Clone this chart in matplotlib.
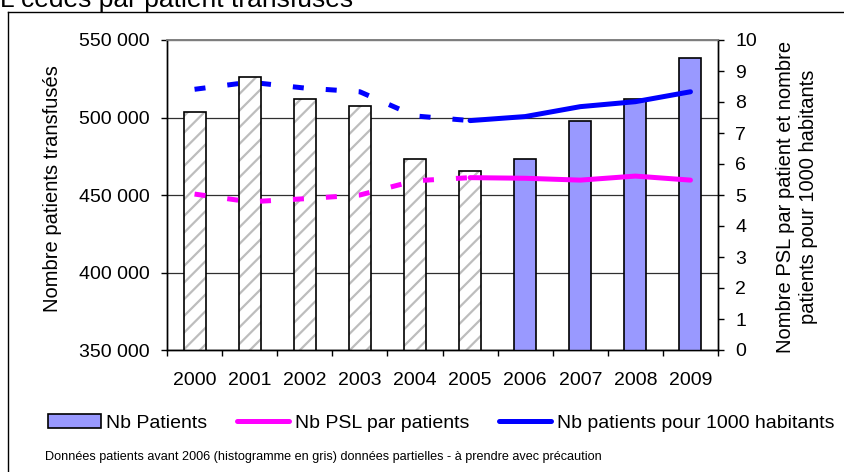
import numpy as np
import matplotlib
matplotlib.use("Agg")
import matplotlib.pyplot as plt
from matplotlib.patches import Patch
from matplotlib.lines import Line2D
from matplotlib.transforms import Bbox

plt.rcParams['font.family'] = ['Liberation Sans', 'DejaVu Sans']
plt.rcParams['hatch.linewidth'] = 1.6

# donnees
years = [2000, 2001, 2002, 2003, 2004, 2005, 2006, 2007, 2008, 2009]
nb_patients = [503700, 526300, 512100, 507400, 473000, 465700, 473000, 497900, 512100, 538400]
psl_par_patient = [5.03, 4.78, 4.88, 5.00, 5.46, 5.56, 5.54, 5.48, 5.61, 5.48]
patients_1000_hab = [8.41, 8.64, 8.45, 8.33, 7.55, 7.40, 7.53, 7.85, 8.01, 8.33]
premiere_annee_complete = 2006

left_ticks = [350000, 400000, 450000, 500000, 550000]
right_ticks = [0, 1, 2, 3, 4, 5, 6, 7, 8, 9, 10]

W, H = 844, 472
LW = 3.6


def fx(px):
    return px / W


def fy(py):
    return (H - py) / H


def draw_bars(ax, x, partial):
    full = ~partial
    vals = np.array(nb_patients)
    # barres grises hachurees (donnees partielles)
    ax.bar(x[partial], vals[partial], width=0.4,
           color='white', edgecolor='#bdbdbd', hatch='//', linewidth=0, zorder=2)
    ax.bar(x[partial], vals[partial], width=0.4,
           facecolor='none', edgecolor='black', linewidth=1.2, zorder=3)
    ax.bar(x[full], vals[full], width=0.4,
           color='#9999ff', edgecolor='black', linewidth=1.2, zorder=3)


def draw_lines(ax, ax2, x, partial):
    # les courbes sont tracees dans ax mais avec l'echelle de droite
    split = int(np.argmax(~partial)) - 1   # derniere annee partielle
    tr = ax2.transData
    for serie, col, z_dash in [(psl_par_patient, '#ff00ff', 4), (patients_1000_hab, '#0000ff', 1.5)]:
        serie = np.array(serie)
        ax.plot(x[:split + 1], serie[:split + 1], color=col, lw=LW, transform=tr,
                dashes=(2.2, 4.4), dash_capstyle='butt', zorder=z_dash)
        ax.plot(x[split:], serie[split:], color=col, lw=LW, transform=tr,
                solid_capstyle='round', zorder=4)


def main():
    fig = plt.figure(figsize=(W / 100, H / 100), dpi=100)
    ax = fig.add_axes([fx(167), fy(350), 551 / W, 310 / H])
    ax2 = ax.twinx()

    x = np.arange(len(years))
    partial = np.array(years) < premiere_annee_complete

    ax.set_xlim(-0.5, len(years) - 0.5)
    ax.set_ylim(left_ticks[0], left_ticks[-1])
    ax2.set_ylim(right_ticks[0], right_ticks[-1])

    draw_bars(ax, x, partial)
    draw_lines(ax, ax2, x, partial)

    ax.set_xlim(-0.5, len(years) - 0.5)
    ax.set_ylim(left_ticks[0], left_ticks[-1])
    ax.set_yticks(left_ticks)
    ax.set_yticklabels([f"{v:,}".replace(',', ' ') for v in left_ticks])
    ax2.set_ylim(right_ticks[0], right_ticks[-1])
    ax2.set_yticks(right_ticks)

    ax.set_xticks(x)
    ax.set_xticklabels([str(y) for y in years])
    ax.set_xticks(np.arange(-0.5, len(years), 1), minor=True)
    ax.tick_params(axis='x', which='major', length=0, pad=15.5, labelsize=14)
    ax.tick_params(axis='x', which='minor', length=4, width=1, direction='out')
    ax.tick_params(axis='y', length=4, width=1, direction='out', pad=8.5, labelsize=14)
    ax2.tick_params(axis='y', length=4, width=1, direction='out', pad=8.5, labelsize=14)

    ax.set_axisbelow(True)
    ax.yaxis.grid(True, color='#303030', lw=0.9)
    for a in (ax, ax2):
        a.spines['top'].set_color('#808080')
        a.spines['top'].set_linewidth(1.2)
        for s in ('left', 'right', 'bottom'):
            a.spines[s].set_linewidth(1.0)
    ax2.set_zorder(ax.get_zorder() + 1)
    ax2.patch.set_visible(False)

    # titres des axes
    fig.text(fx(53), fy(189), "Nombre patients transfusés", rotation=90,
             ha='center', va='center', fontsize=14.5)
    t = fig.text(fx(797), fy(197), "Nombre PSL par patient et nombre\npatients pour 1000 habitants",
                 rotation=90, ha='center', va='center', fontsize=14.5, multialignment='center',
                 linespacing=1.3)
    t.set_clip_box(Bbox.from_extents(0, 0, W, H - 40))
    t.set_clip_on(True)

    # titre coupe en haut
    fig.text(0, fy(7), "L cédés par patient transfusés", ha='left', va='baseline', fontsize=19)

    # cadre exterieur
    fig.add_artist(Line2D([fx(8), fx(8)], [fy(12), 0], color='black', lw=1,
                          transform=fig.transFigure))
    fig.add_artist(Line2D([fx(8), 1], [fy(12), fy(12)], color='black', lw=1,
                          transform=fig.transFigure))

    handles = [Patch(facecolor='#9999ff', edgecolor='black', linewidth=1.2),
               Line2D([], [], color='#ff00ff', lw=LW, solid_capstyle='round'),
               Line2D([], [], color='#0000ff', lw=LW, solid_capstyle='round')]
    labels = ["Nb Patients", "Nb PSL par patients", "Nb patients pour 1000 habitants"]
    fig.legend(handles, labels, loc='center left', bbox_to_anchor=(fx(48), fy(423)),
               ncol=3, frameon=False, fontsize=14, handlelength=2.7, handletextpad=0.3,
               columnspacing=1.5, borderpad=0, borderaxespad=0)

    fig.text(fx(45), fy(457),
             "Données patients avant 2006 (histogramme en gris) données partielles - à prendre avec précaution",
             ha='left', va='center', fontsize=9.1)

    fig.savefig("out.png", dpi=100)


main()
